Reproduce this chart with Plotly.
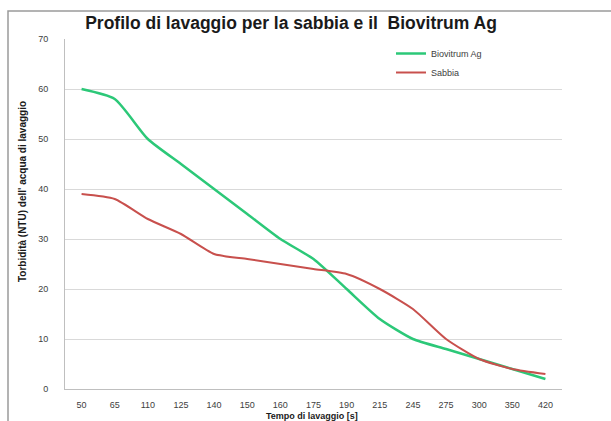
import plotly.graph_objects as go

categories = ["50", "65", "110", "125", "140", "150", "160", "175", "190", "215", "245", "275", "300", "350", "420"]
biovitrum = [60, 58, 50, 45, 40, 35, 30, 26, 20, 14, 10, 8, 6, 4, 2]
sabbia = [39, 38, 34, 31, 27, 26, 25, 24, 23, 20, 16, 10, 6, 4, 3]
y_ticks = [0, 10, 20, 30, 40, 50, 60, 70]

W, H = 611, 421
L, R, T, B = 65, 562, 39, 389

def px_x(p):
    return (p - L) / (R - L)

def px_y(p):
    return (B - p) / (B - T)

fig = go.Figure()
fig.add_trace(go.Scatter(x=categories, y=biovitrum, mode="lines", name="Biovitrum Ag",
                         line=dict(color="#2CC878", width=2.5, shape="spline", smoothing=0.6)))
fig.add_trace(go.Scatter(x=categories, y=sabbia, mode="lines", name="Sabbia",
                         line=dict(color="#C8504D", width=2, shape="spline", smoothing=0.6)))

fig.update_layout(
    width=W, height=H,
    margin=dict(l=L, r=W - R, t=T, b=H - B, autoexpand=False),
    paper_bgcolor="white", plot_bgcolor="white",
    font=dict(family="Liberation Sans", size=9, color="#404040"),
    showlegend=True,
    legend=dict(x=px_x(391), y=px_y(39), xanchor="left", yanchor="top",
                bgcolor="rgba(0,0,0,0)", font=dict(size=9, color="#404040"),
                tracegroupgap=6, itemwidth=30),
    title=dict(text="<b>Profilo di lavaggio per la sabbia e il  Biovitrum Ag</b>",
               xref="container", yref="container",
               x=291 / W, xanchor="center", y=1 - 23 / H, yanchor="middle",
               font=dict(family="Liberation Sans", size=17.5, color="#1a1a1a")),
)
fig.update_xaxes(type="category", range=[-0.5, len(categories) - 0.5], automargin=False,
                 showgrid=False, showline=True, linecolor="#bfbfbf", linewidth=1,
                 ticks="", ticklabelstandoff=7, tickfont=dict(size=9, color="#404040"),
                 fixedrange=True)
fig.update_yaxes(range=[0, 70], tickvals=y_ticks, showgrid=True, gridcolor="#d9d9d9",
                 automargin=False,
                 gridwidth=1.2, showline=True, linecolor="#bfbfbf", linewidth=1,
                 zeroline=False, ticks="", ticklabelstandoff=14,
                 tickfont=dict(size=9, color="#404040"))

fig.add_annotation(text="<b>Tempo di lavaggio [s]</b>", xref="paper", yref="paper",
                   x=px_x(312), y=px_y(416), xanchor="center", yanchor="middle",
                   showarrow=False, font=dict(size=9, color="#1a1a1a"))
fig.add_annotation(text="<b>Torbidità (NTU) dell' acqua di lavaggio</b>", xref="paper", yref="paper",
                   x=px_x(22), y=px_y(192), xanchor="center", yanchor="middle", textangle=-90,
                   showarrow=False, font=dict(size=10, color="#1a1a1a"))

fig.add_shape(type="rect", xref="paper", yref="paper",
              x0=px_x(8), x1=px_x(640), y0=px_y(440), y1=px_y(11),
              line=dict(color="#9a9a9a", width=1.5), fillcolor="rgba(0,0,0,0)", layer="below")

fig.write_html("out.html", config={"displayModeBar": False},
               post_script="document.body.style.margin='0px';document.body.style.overflow='hidden';")
